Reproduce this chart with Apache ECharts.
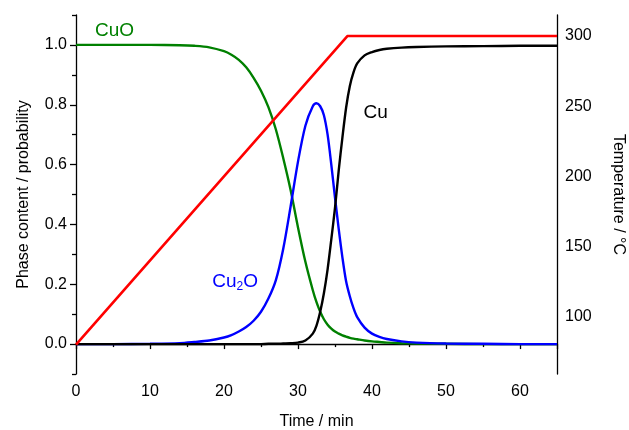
<!DOCTYPE html>
<html>
<head>
<meta charset="utf-8">
<script src="https://cdn.jsdelivr.net/npm/echarts@6/dist/echarts.min.js"></script>
<style>
html,body{margin:0;padding:0;background:#fff;}
#main{width:629px;height:430px;}
</style>
</head>
<body>
<div id="main"></div>
<script>
// time axis (min), shared by the phase curves
var times = [0,5,10,14,16,18,20,21,22,23,24,25,26,27,28,29,30,31,32,32.5,33,33.5,34,34.5,35,35.5,36,36.5,37,37.5,38,39,40,41,42,44,46,50,55,60,65];
var cuO  = [1,1,1,0.999,0.997,0.992,0.979,0.967,0.95,0.925,0.89,0.847,0.792,0.718,0.622,0.515,0.39,0.275,0.18,0.14,0.108,0.083,0.065,0.052,0.042,0.035,0.029,0.025,0.021,0.018,0.016,0.012,0.009,0.007,0.005,0.003,0.002,0.001,0,0,0];
var cu2O = [0,0,0.001,0.003,0.007,0.012,0.022,0.03,0.042,0.057,0.078,0.108,0.152,0.213,0.318,0.46,0.61,0.73,0.795,0.805,0.795,0.765,0.7,0.6,0.49,0.385,0.29,0.21,0.16,0.12,0.09,0.055,0.035,0.024,0.017,0.009,0.005,0.002,0.001,0,0];
var cu   = [0,0,0,0,0,0,0,0,0,0,0,0,0.001,0.001,0.002,0.003,0.005,0.012,0.035,0.062,0.108,0.17,0.25,0.35,0.455,0.58,0.69,0.79,0.862,0.908,0.938,0.965,0.976,0.983,0.987,0.991,0.993,0.995,0.996,0.997,0.997];

// temperature programme
var tempTimes = [0,36.67,65];
var temps = [80,300,300];

var xTicks = [0,10,20,30,40,50,60];
var leftLabels = [0,0.2,0.4,0.6,0.8,1.0];
var leftMinor = [-0.1,0.1,0.3,0.5,0.7,0.9,1.1];
var rightLabels = [100,150,200,250,300];

function pairs(xs,ys){
	return xs.map(function(x,i){ return [x,ys[i]]; });
}

var FONT = 'Liberation Sans';
var txt = {color:'#000',fontFamily:FONT,fontSize:16};

function tag(coord,fmt,color){
	return {
		symbol:'circle',symbolSize:0,silent:true,
		data:[{coord:coord,value:0}],
		label:{show:true,position:'inside',formatter:fmt,
			rich:{
				a:{color:color,fontFamily:FONT,fontSize:19,lineHeight:20,verticalAlign:'top'},
				s:{color:color,fontFamily:FONT,fontSize:12,lineHeight:12,padding:[11,0,0,0],verticalAlign:'bottom'}
			}
		}
	};
}

var myChart = echarts.init(document.getElementById('main'));
var option = {
	animation:false,
	grid:{left:76,right:72,top:15,bottom:56,containLabel:false,outerBoundsMode:'none'},
	xAxis:{
		type:'value',min:0,max:65,interval:10,
		name:'Time / min',nameLocation:'middle',nameGap:40,
		nameTextStyle:txt,
		axisLine:{lineStyle:{color:'#000',width:1.3}},
		axisTick:{inside:false,length:5,lineStyle:{color:'#000',width:1.3}},
		minorTick:{show:true,splitNumber:2,length:3,lineStyle:{color:'#000',width:1.3}},
		axisLabel:Object.assign({margin:10,customValues:xTicks},txt),
		splitLine:{show:false}
	},
	yAxis:[{
		type:'value',min:-0.1,max:1.1,position:'left',
		name:'Phase content / probability',nameLocation:'middle',nameGap:44,nameRotate:90,
		nameTextStyle:txt,
		axisLine:{show:true,lineStyle:{color:'#000',width:1.3}},
		axisTick:{show:true,length:6,customValues:leftLabels,lineStyle:{color:'#000',width:1.3}},
		axisLabel:Object.assign({margin:9,customValues:leftLabels,formatter:function(v){return v.toFixed(1);}},txt),
		splitLine:{show:false}
	},{
		type:'value',min:59,max:315,position:'right',
		name:'Temperature / \u00B0C',nameLocation:'middle',nameGap:53,nameRotate:-90,
		nameTextStyle:txt,
		axisLine:{show:true,lineStyle:{color:'#000',width:1.3}},
		axisTick:{show:false},
		axisLabel:Object.assign({margin:8,customValues:rightLabels},txt),
		splitLine:{show:false}
	},{
		type:'value',min:-0.1,max:1.1,position:'left',
		axisLine:{show:false},
		axisTick:{show:true,length:4,customValues:leftMinor,lineStyle:{color:'#000',width:1.3}},
		axisLabel:{show:false},
		splitLine:{show:false}
	}],
	series:[{
		name:'CuO',type:'line',yAxisIndex:0,showSymbol:false,smooth:0.3,
		data:pairs(times,cuO),
		lineStyle:{color:'#008000',width:2.4},
		markPoint:tag([5.2,1.045],'{a|CuO}','#008000')
	},{
		name:'Cu2O',type:'line',yAxisIndex:0,showSymbol:false,smooth:0.3,
		data:pairs(times,cu2O),
		lineStyle:{color:'#0000ff',width:2.4},
		markPoint:tag([21.5,0.205],'{a|Cu}{s|2}{a|O}','#0000ff')
	},{
		name:'Cu',type:'line',yAxisIndex:0,showSymbol:false,smooth:0.3,
		data:pairs(times,cu),
		lineStyle:{color:'#000',width:2.4},
		markPoint:tag([40.5,0.77],'{a|Cu}','#000')
	},{
		name:'Temperature',type:'line',yAxisIndex:1,showSymbol:false,
		data:pairs(tempTimes,temps),
		lineStyle:{color:'#ff0000',width:2.6}
	}]
};
myChart.setOption(option);
</script>
</body>
</html>
